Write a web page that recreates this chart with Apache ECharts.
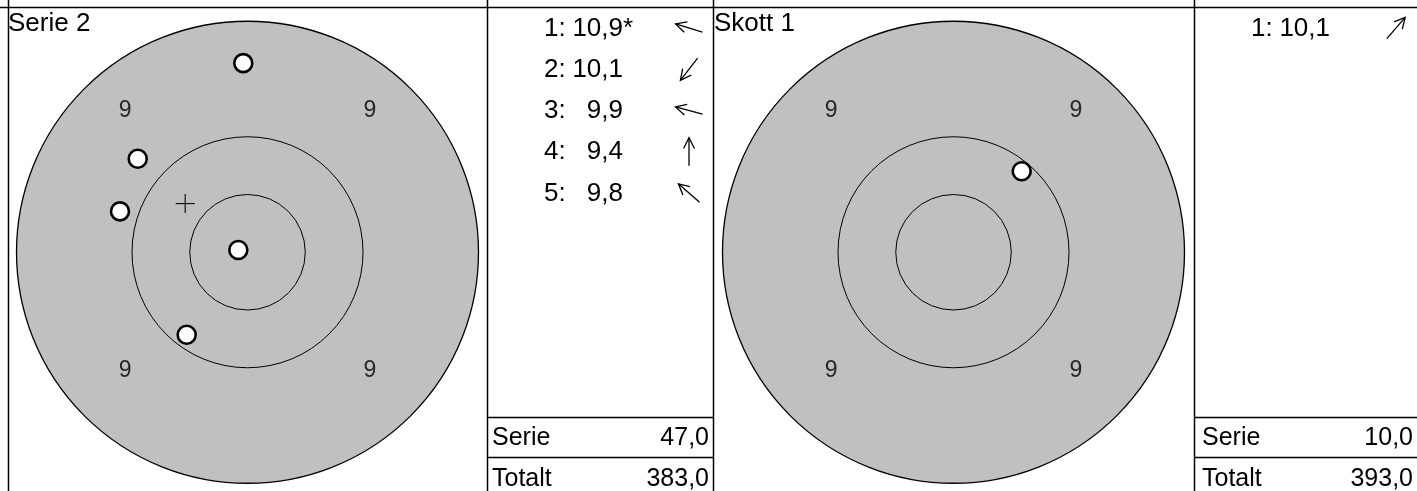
<!DOCTYPE html>
<html><head><meta charset="utf-8">
<script src="https://cdn.jsdelivr.net/npm/echarts/dist/echarts.min.js"></script>
<style>html,body{margin:0;padding:0;background:#fff;overflow:hidden}#c{width:1417px;height:491px}</style>
</head><body><div id="c"></div>
<script>
// ---------- data ----------
const panelTitles = ['Serie 2', 'Skott 1'];
const ringRadii = [4, 2, 1];                 // target units (outer filled, then rings)
const ringLabelText = ['9', '9', '9', '9'];
const ringLabelX = [-2.12, 2.12, -2.12, 2.12];
const ringLabelY = [2.46, 2.46, -2.06, -2.06];
const shotsLeftX = [-0.073, -1.901, -2.208, -0.159, -1.053];
const shotsLeftY = [3.285, 1.623, 0.710, 0.040, -1.432];
const shotsRightX = [1.181];
const shotsRightY = [1.408];
const listLeftNo = ['1:', '2:', '3:', '4:', '5:'];
const listLeftScore = ['10,9', '10,1', '9,9', '9,4', '9,8'];
const listLeftFlag = ['*', '', '', '', ''];
const listLeftArrow = [163, 232, 165, 90, 139];   // direction, degrees
const listRightNo = ['1:'];
const listRightScore = ['10,1'];
const listRightFlag = [''];
const listRightArrow = [49];
const tableLabels = ['Serie', 'Totalt'];
const tableLeftValues = ['47,0', '383,0'];
const tableRightValues = ['10,0', '393,0'];

// ---------- layout ----------
const FONT = '"Liberation Sans", Arial, sans-serif';
const UNIT = 57.75, HALF = 239.5, EXT = HALF / UNIT;
const CY = 253;
const targets = [{cx: 247.5}, {cx: 953.5}];
const lists = [{left: 487, width: 226, labelX: 5, valRight: 4}, {left: 1194, width: 223, labelX: 8, valRight: 4}];
const ROW0 = 28.5, ROWH = 41.25;

const chart = echarts.init(document.getElementById('c'), null, {renderer: 'canvas'});

const grids = [], xAxes = [], yAxes = [], series = [];
targets.forEach((t, k) => {
  grids.push({left: t.cx - HALF, top: CY - HALF, width: 2 * HALF, height: 2 * HALF});
  xAxes.push({type: 'value', gridIndex: k, min: -EXT, max: EXT, show: false});
  yAxes.push({type: 'value', gridIndex: k, min: -EXT, max: EXT, show: false});
});
lists.forEach((l, k) => {
  grids.push({left: l.left, top: ROW0 - ROWH / 2, width: l.width, height: ROWH * 10});
  xAxes.push({type: 'value', gridIndex: 2 + k, min: 0, max: l.width, show: false});
  yAxes.push({type: 'value', gridIndex: 2 + k, min: -0.5, max: 9.5, inverse: true, show: false});
});

function ringSeries(k) {
  return {
    type: 'custom', xAxisIndex: k, yAxisIndex: k, silent: true, z: 1,
    data: ringRadii.map(r => [0, 0, r]),
    encode: {x: 0, y: 1},
    renderItem: (params, api) => {
      const c = api.coord([api.value(0), api.value(1)]);
      const r = api.size([api.value(2), 0])[0];
      return {type: 'circle', shape: {cx: c[0], cy: c[1], r: r},
        style: {fill: params.dataIndex === 0 ? '#c0c0c0' : 'none', stroke: '#000', lineWidth: params.dataIndex === 0 ? 1.3 : 1}};
    }
  };
}
function labelSeries(k) {
  return {
    type: 'scatter', xAxisIndex: k, yAxisIndex: k, silent: true, z: 2,
    symbolSize: 1, itemStyle: {color: 'rgba(0,0,0,0)'},
    data: ringLabelX.map((x, i) => ({value: [x, ringLabelY[i]], name: ringLabelText[i]})),
    label: {show: true, position: 'inside', formatter: p => p.name, color: '#000', fontSize: 23, fontFamily: FONT}
  };
}
function meanSeries(k, xs, ys) {
  const mx = xs.reduce((a, b) => a + b, 0) / xs.length;
  const my = ys.reduce((a, b) => a + b, 0) / ys.length;
  return {
    type: 'custom', xAxisIndex: k, yAxisIndex: k, silent: true, z: 3,
    data: [[mx, my]], encode: {x: 0, y: 1},
    renderItem: (params, api) => {
      const c = api.coord([api.value(0), api.value(1)]);
      const h = 9.5;
      return {type: 'group', children: [
        {type: 'line', shape: {x1: c[0] - h, y1: c[1], x2: c[0] + h, y2: c[1]}, style: {stroke: '#000', lineWidth: 1.1}},
        {type: 'line', shape: {x1: c[0], y1: c[1] - h, x2: c[0], y2: c[1] + h}, style: {stroke: '#000', lineWidth: 1.1}}
      ]};
    }
  };
}
function shotSeries(k, xs, ys) {
  return {
    type: 'scatter', xAxisIndex: k, yAxisIndex: k, silent: true, z: 4,
    symbol: 'circle', symbolSize: 18,
    itemStyle: {color: '#fff', borderColor: '#000', borderWidth: 2.6, opacity: 1},
    data: xs.map((x, i) => [x, ys[i]])
  };
}
function arrow(cx, cy, deg) {
  const a = deg * Math.PI / 180, L = 28, h = 12, s = 27 * Math.PI / 180;
  const dx = Math.cos(a), dy = -Math.sin(a);
  const tip = [cx + dx * L / 2, cy + dy * L / 2], tail = [cx - dx * L / 2, cy - dy * L / 2];
  const arm = d => [tip[0] - h * Math.cos(a + d), tip[1] + h * Math.sin(a + d)];
  return [
    {type: 'line', shape: {x1: tail[0], y1: tail[1], x2: tip[0], y2: tip[1]}, style: {stroke: '#000', lineWidth: 1.3}},
    {type: 'polyline', shape: {points: [arm(s), tip, arm(-s)]}, style: {stroke: '#000', fill: 'none', lineWidth: 1.3}}
  ];
}
function listSeries(k, nos, scores, flags, arrows) {
  return {
    type: 'custom', xAxisIndex: 2 + k, yAxisIndex: 2 + k, silent: true, z: 5,
    data: nos.map((n, i) => [0, i]), encode: {x: 0, y: 1},
    renderItem: (params, api) => {
      const i = params.dataIndex;
      const c = api.coord([0, api.value(1)]);
      const font = '26px ' + FONT;
      return {type: 'group', children: [
        {type: 'text', style: {text: nos[i], x: c[0] + 57, y: c[1], align: 'left', verticalAlign: 'middle', font: font, fill: '#000'}},
        {type: 'text', style: {text: scores[i], x: c[0] + 136, y: c[1], align: 'right', verticalAlign: 'middle', font: font, fill: '#000'}},
        {type: 'text', style: {text: flags[i], x: c[0] + 136, y: c[1], align: 'left', verticalAlign: 'middle', font: font, fill: '#000'}}
      ].concat(arrow(c[0] + 202, c[1] - 0.5, arrows[i]))};
    }
  };
}

series.push(ringSeries(0), labelSeries(0), meanSeries(0, shotsLeftX, shotsLeftY), shotSeries(0, shotsLeftX, shotsLeftY));
series.push(ringSeries(1), labelSeries(1), meanSeries(1, shotsRightX, shotsRightY), shotSeries(1, shotsRightX, shotsRightY));
series.push(listSeries(0, listLeftNo, listLeftScore, listLeftFlag, listLeftArrow));
series.push(listSeries(1, listRightNo, listRightScore, listRightFlag, listRightArrow));

// frame + table
const W = 1417, H = 491;
const graphic = [];
const ln = (x1, y1, x2, y2) => graphic.push({type: 'line', silent: true, z: 10,
  shape: {x1, y1, x2, y2}, style: {stroke: '#000', lineWidth: 1.5}});
ln(0, 7.5, W, 7.5);
[8.5, 487.5, 713.5, 1194.5].forEach(x => ln(x, 0, x, H));
const TLINES = [417.5, 457.5], TROWS = [438.5, 479];
const tableVals = [tableLeftValues, tableRightValues];
lists.forEach((l, k) => {
  TLINES.forEach(y => ln(l.left, y, l.left + l.width, y));
  tableLabels.forEach((lab, r) => {
    graphic.push({type: 'text', silent: true, z: 10, style: {text: lab, x: l.left + l.labelX, y: TROWS[r], font: '25px ' + FONT, fill: '#000', align: 'left', verticalAlign: 'middle'}});
    graphic.push({type: 'text', silent: true, z: 10, style: {text: tableVals[k][r], x: l.left + l.width - l.valRight, y: TROWS[r], font: '25px ' + FONT, fill: '#000', align: 'right', verticalAlign: 'middle'}});
  });
});
[8, 714].forEach((x, k) => graphic.push({type: 'text', silent: true, z: 10,
  style: {text: panelTitles[k], x: x, y: 23.5, font: '26px ' + FONT, fill: '#000', align: 'left', verticalAlign: 'middle'}}));

chart.setOption({
  animation: false,
  backgroundColor: '#fff',
  grid: grids, xAxis: xAxes, yAxis: yAxes, series: series, graphic: graphic
});
</script></body></html>
